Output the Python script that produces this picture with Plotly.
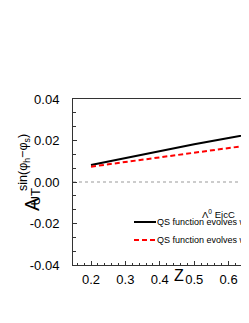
import plotly.graph_objects as go

# ---- data ----
z_vals = [0.2, 0.3, 0.4, 0.5, 0.6, 0.7]
asym_black = [0.0082, 0.0116, 0.0150, 0.0182, 0.0212, 0.0241]
asym_red = [0.0074, 0.0097, 0.0120, 0.0142, 0.0164, 0.0186]
series_names = ["QS function evolves with Q", "QS function evolves with Q (approx.)"]
legend_header = "Λ<sup>0</sup> EicC"
y_tickvals = [-0.04, -0.02, 0.0, 0.02, 0.04]
y_ticktext = ["-0.04", "-0.02", "0.00", "0.02", "0.04"]
x_tickvals = [0.2, 0.3, 0.4, 0.5, 0.6]
x_ticktext = ["0.2", "0.3", "0.4", "0.5", "0.6"]

# page body has an 8px default margin: work in window pixels, convert to figure pixels
OFF = 8
W, H = 249, 323
ML, MT = 73 - OFF, 99 - OFF
MB = H - (265 - OFF)
MR = 0
PW, PH = W - ML - MR, H - MT - MB
FONT = "Liberation Sans, Arial, Helvetica, sans-serif"

def px_x(p):  # window pixel -> paper fraction
    return (p - OFF - ML) / PW

def px_y(p):
    return (H - MB - (p - OFF)) / PH

# x range: 0.2 at window x=91, 34.4 px per 0.1
x_lo = 0.2 - (91 - 73) / 344
x_hi = 0.2 + (W + OFF - 91) / 344

fig = go.Figure()
fig.add_trace(go.Scatter(x=z_vals, y=asym_black, mode="lines", name=series_names[0],
                         line=dict(color="black", width=2), showlegend=False))
fig.add_trace(go.Scatter(x=z_vals, y=asym_red, mode="lines", name=series_names[1],
                         line=dict(color="#ff0000", width=2, dash="5px,3px"), showlegend=False))

# zero reference line
fig.add_shape(type="line", xref="paper", yref="y", x0=0, x1=1, y0=0, y1=0,
              line=dict(color="#999999", width=1, dash="dot"), layer="below")

# manual legend
leg_rows = [(222, dict(color="black", width=2)),
            (240, dict(color="#ff0000", width=2, dash="5px,3px"))]
for (yp, ln), name in zip(leg_rows, series_names):
    fig.add_shape(type="line", xref="paper", yref="paper",
                  x0=px_x(134), x1=px_x(156), y0=px_y(yp), y1=px_y(yp), line=ln)
    fig.add_annotation(xref="paper", yref="paper", x=px_x(155), y=px_y(yp),
                       xanchor="left", yanchor="middle", text=name, showarrow=False,
                       font=dict(family=FONT, size=9, color="black"))
fig.add_annotation(xref="paper", yref="paper", x=px_x(200), y=px_y(214),
                   xanchor="left", yanchor="middle", text=legend_header, showarrow=False,
                   font=dict(family=FONT, size=9.5, color="black"))

# y-axis title pieces
fig.add_annotation(xref="paper", yref="paper", x=px_x(19), y=px_y(213), text="A",
                   textangle=-90, showarrow=False, font=dict(family=FONT, size=20, color="black"))
fig.add_annotation(xref="paper", yref="paper", x=px_x(25), y=px_y(197), text="UT",
                   textangle=-90, showarrow=False, font=dict(family=FONT, size=13, color="black"))
fig.add_annotation(xref="paper", yref="paper", x=px_x(14), y=px_y(163),
                   text="sin(φ<sub>h</sub>−φ<sub>s</sub>)",
                   textangle=-90, showarrow=False, font=dict(family=FONT, size=12.5, color="black"))
# x-axis title
fig.add_annotation(xref="paper", yref="paper", x=px_x(179), y=px_y(286), text="Z",
                   showarrow=False, font=dict(family=FONT, size=16, color="black"))

fig.update_layout(
    width=W, height=H,
    margin=dict(l=ML, r=MR, t=MT, b=MB, pad=0),
    paper_bgcolor="white", plot_bgcolor="white",
    showlegend=False,
    font=dict(family=FONT, size=13, color="black"),
    xaxis=dict(range=[x_lo, x_hi], tickvals=x_tickvals, ticktext=x_ticktext,
               showline=True, linecolor="#333333", linewidth=1, mirror=True,
               ticks="inside", ticklen=4, tickcolor="#333333", showgrid=False, zeroline=False,
               minor=dict(dtick=0.02, ticks="inside", ticklen=2.5, tickcolor="#333333", showgrid=False),
               tickfont=dict(family=FONT, size=13), ticklabelstandoff=2),
    yaxis=dict(range=[-0.04, 0.04], tickvals=y_tickvals, ticktext=y_ticktext,
               showline=True, linecolor="#333333", linewidth=1, mirror=False,
               ticks="inside", ticklen=4, tickcolor="#333333", showgrid=False, zeroline=False,
               minor=dict(dtick=0.02 / 3, tick0=0, ticks="inside", ticklen=2.5, tickcolor="#333333", showgrid=False),
               tickfont=dict(family=FONT, size=13), ticklabelstandoff=10),
)

fig.write_html("out.html")
